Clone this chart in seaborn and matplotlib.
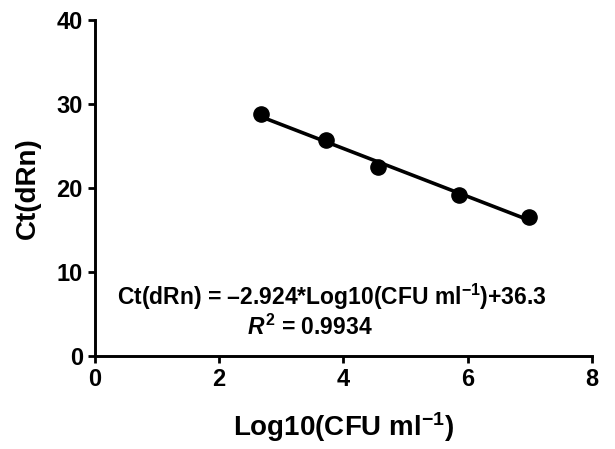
import matplotlib
matplotlib.use("Agg")
import matplotlib.pyplot as plt
import seaborn as sns
import pandas as pd

# Log10(CFU/ml) vs Ct values
log_cfu = [2.67, 3.72, 4.55, 5.85, 6.98]
ct_drn = [28.8, 25.7, 22.5, 19.2, 16.6]

x_ticks = [0, 2, 4, 6, 8]
y_ticks = [0, 10, 20, 30, 40]

df = pd.DataFrame({"logcfu": log_cfu, "ct": ct_drn})

sns.set_style("ticks")
plt.rcParams["font.family"] = ["Liberation Sans", "DejaVu Sans"]
plt.rcParams["font.weight"] = "bold"
plt.rcParams["text.color"] = "black"
plt.rcParams["axes.labelcolor"] = "black"
plt.rcParams["xtick.color"] = "black"
plt.rcParams["ytick.color"] = "black"
plt.rcParams["mathtext.fontset"] = "custom"
plt.rcParams["mathtext.rm"] = "Liberation Sans:bold"
plt.rcParams["mathtext.it"] = "Liberation Sans:bold:italic"
plt.rcParams["mathtext.bf"] = "Liberation Sans:bold"

fig = plt.figure(figsize=(6.15, 4.49), dpi=100)
ax = fig.add_axes([0.154, 0.207, 0.809, 0.748])

sns.regplot(data=df, x="logcfu", y="ct", ax=ax, ci=None, truncate=True,
            color="black",
            scatter_kws={"s": 120, "alpha": 1, "zorder": 3},
            line_kws={"lw": 2.6})

ax.set_xlim(0, 8)
ax.set_ylim(0, 40)
ax.set_xticks(x_ticks)
ax.set_yticks(y_ticks)
ax.tick_params(labelsize=17, width=2, length=5, color="black", labelcolor="black")
for lab in ax.get_xticklabels() + ax.get_yticklabels():
    lab.set_fontweight("bold")

for side in ["left", "bottom"]:
    ax.spines[side].set_linewidth(2.1)
    ax.spines[side].set_color("black")
sns.despine(ax=ax)

ax.set_xlabel("Log10(CFU ml$^{-1}$)", fontsize=20, fontweight="bold", labelpad=14)
ax.set_ylabel("Ct(dRn)", fontsize=20, fontweight="bold", labelpad=11)

ax.text(3.82, 7.0, "Ct(dRn) = \u20132.924*Log10(CFU ml$^{-1}$)+36.3",
        ha="center", va="center", fontsize=16.5, fontweight="bold")
ax.text(3.46, 3.4, "$R^2$ = 0.9934",
        ha="center", va="center", fontsize=16.5, fontweight="bold")

fig.savefig("out.png", dpi=100)
